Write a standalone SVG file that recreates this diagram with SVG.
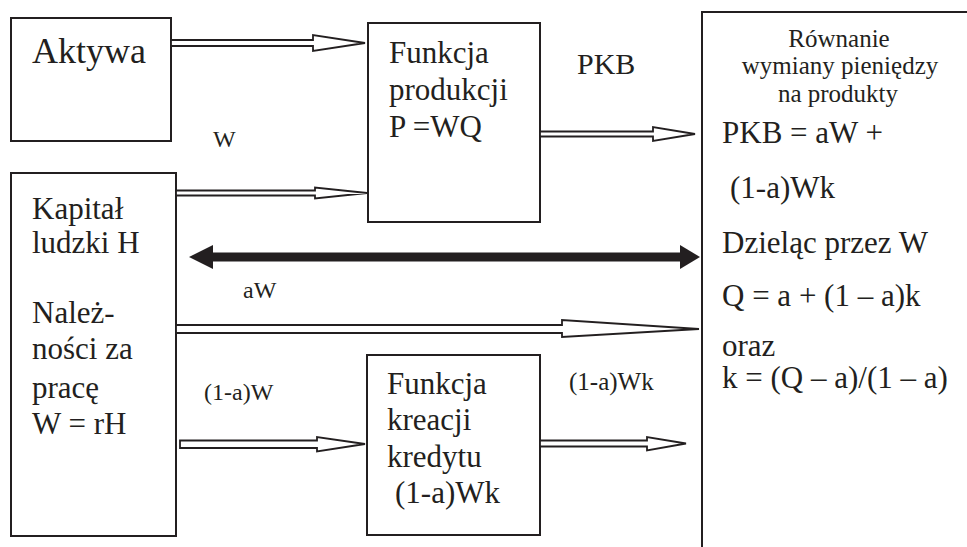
<svg xmlns="http://www.w3.org/2000/svg" width="967" height="547" viewBox="0 0 967 547">
  <style>
    .box { fill: #ffffff; stroke: #231f20; stroke-width: 2; }
    .t { font-family: "Liberation Serif", "Times New Roman", serif; fill: #231f20; }
    .big { font-size: 31px; }
    .lbl { font-size: 24px; }
    .hollow { fill: #ffffff; stroke: #231f20; stroke-width: 1.8; stroke-linejoin: miter; }
    .solid { fill: #231f20; stroke: none; }
  </style>
  <rect width="967" height="547" fill="#ffffff"/>

  <!-- Aktywa -->
  <g id="aktywa">
    <rect class="box" x="11" y="18" width="160" height="123"/>
    <text class="t" x="32" y="63" font-size="36">Aktywa</text>
  </g>

  <!-- Funkcja produkcji -->
  <g id="funkcja-produkcji">
    <rect class="box" x="368" y="23" width="172" height="199"/>
    <text class="t big" x="389" y="63">Funkcja</text>
    <text class="t big" x="389" y="100">produkcji</text>
    <text class="t big" x="389" y="137">P =WQ</text>
  </g>

  <!-- Kapitał ludzki -->
  <g id="kapital">
    <rect class="box" x="11" y="173" width="165" height="363"/>
    <text class="t big" x="32" y="219">Kapitał</text>
    <text class="t big" x="32" y="253">ludzki H</text>
    <text class="t big" x="32" y="323">Należ-</text>
    <text class="t big" x="32" y="359">ności za</text>
    <text class="t big" x="32" y="398">pracę</text>
    <text class="t big" x="32" y="434">W = rH</text>
  </g>

  <!-- Funkcja kreacji kredytu -->
  <g id="funkcja-kreacji">
    <rect class="box" x="367" y="355" width="173" height="180"/>
    <text class="t big" x="387" y="394">Funkcja</text>
    <text class="t big" x="387" y="430">kreacji</text>
    <text class="t big" x="387" y="467">kredytu</text>
    <text class="t big" x="395" y="503">(1-a)Wk</text>
  </g>

  <!-- Równanie wymiany -->
  <g id="rownanie">
    <rect class="box" x="702" y="12" width="300" height="560"/>
    <g class="t" font-size="25" text-anchor="middle">
      <text x="839" y="47">Równanie</text>
      <text x="840" y="74">wymiany pieniędzy</text>
      <text x="838" y="102">na produkty</text>
    </g>
    <text class="t big" x="722" y="143">PKB = aW +</text>
    <text class="t big" x="730" y="198">(1-a)Wk</text>
    <text class="t big" x="722" y="253">Dzieląc przez W</text>
    <text class="t big" x="722" y="306">Q = a + (1 – a)k</text>
    <text class="t big" x="722" y="356">oraz</text>
    <text class="t big" x="722" y="388">k = (Q – a)/(1 – a)</text>
  </g>

  <!-- connectors -->
  <g id="connectors">
    <!-- Aktywa -> Funkcja produkcji -->
    <polygon class="hollow" points="171,40 313,40 313,35 365,43 313,51 313,46 171,46"/>
    <!-- Funkcja produkcji -> Równanie (PKB) -->
    <polygon class="hollow" points="540,131.5 653,131.5 653,127 695,134 653,141 653,136.5 540,136.5"/>
    <!-- Kapitał -> Funkcja produkcji (W) -->
    <polygon class="hollow" points="176,190.5 315,190.5 315,187.5 367,193 315,198.5 315,195.5 176,195.5"/>
    <!-- two-way bold arrow -->
    <line x1="210" y1="257" x2="682" y2="257" stroke="#231f20" stroke-width="9"/>
    <polygon class="solid" points="189,257 213,245 213,269"/>
    <polygon class="solid" points="700,257 680,245 680,269"/>
    <!-- Kapitał -> Równanie (aW) -->
    <polygon class="hollow" points="176,325 562,325 562,320 699,329 562,337 562,333 176,333"/>
    <!-- Kapitał -> Funkcja kreacji ((1-a)W) -->
    <polygon class="hollow" points="180,440.5 317,440.5 317,437 365,444 317,451.5 317,448 180,448"/>
    <!-- Funkcja kreacji -> Równanie ((1-a)Wk) -->
    <polygon class="hollow" points="540,440.5 647,440.5 647,437 686,443.5 647,450.5 647,446.5 540,446.5"/>
  </g>

  <!-- flow labels -->
  <g id="labels" class="t">
    <text x="577" y="74" font-size="30">PKB</text>
    <text class="lbl" x="213" y="147">W</text>
    <text class="lbl" x="243" y="298">aW</text>
    <text class="lbl" x="204" y="400">(1-a)W</text>
    <text x="569" y="390" font-size="25">(1-a)Wk</text>
  </g>
</svg>
